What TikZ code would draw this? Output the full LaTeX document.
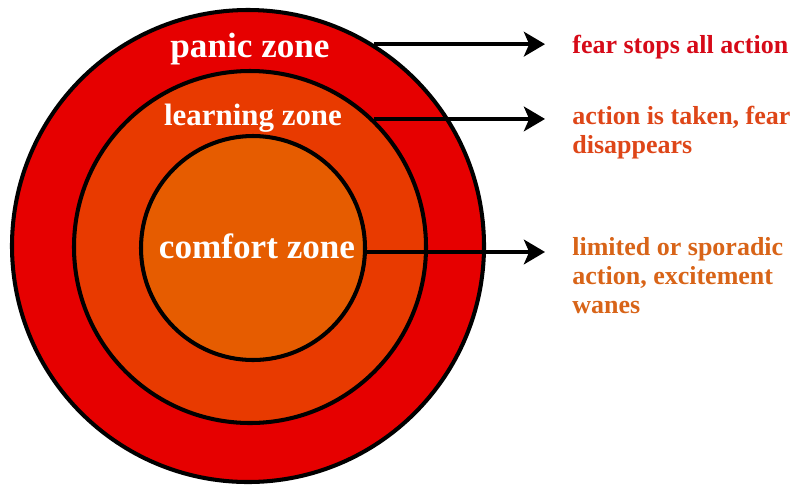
\documentclass[tikz,border=0pt]{standalone}
\usepackage{fontspec}
\setmainfont{Liberation Serif}
\usetikzlibrary{arrows.meta}

\definecolor{panicred}{RGB}{230,0,0}
\definecolor{learnred}{RGB}{232,58,0}
\definecolor{comfortor}{RGB}{230,92,0}
\definecolor{feartext}{RGB}{214,10,24}
\definecolor{actiontext}{RGB}{222,70,24}
\definecolor{limitedtext}{RGB}{216,100,24}

\begin{document}
\begin{tikzpicture}[
    x=0.02cm, y=-0.02cm,
    % Styles
    zone/.style={circle, draw=black, line width=2.3pt, fill=#1, inner sep=0pt},
    zonetext/.style={anchor=base, text=white, inner sep=0pt, font=\bfseries\fontsize{#1}{#1}\selectfont},
    effect/.style={anchor=base west, inner sep=0pt, align=left, text=#1,
        font=\bfseries\fontsize{14.8}{16.4}\selectfont},
    pointer/.style={-{Stealth[length=12pt, width=14pt, inset=3pt]}, line width=2.3pt, shorten >=0.54cm}
]
\useasboundingbox (0,0) rectangle (800,491);

% --- Zones ---
\node[zone=panicred, minimum size=472*0.02cm] (panic) at (248,246) {};
\node[zone=learnred, minimum size=352*0.02cm] (learning) at (250,247) {};
\node[zone=comfortor, minimum size=224*0.02cm] (comfort) at (253,248) {};

% --- Zone labels ---
\node[zonetext=20] (paniclbl) at (250,57) {panic zone};
\node[zonetext=17.6] (learninglbl) at (253,125) {learning zone};
\node[zonetext=20] (comfortlbl) at (257,258) {comfort zone};

% --- Effects (base = last line) ---
\node[effect=feartext] (fear) at (572,53) {fear stops all action};
\node[effect=actiontext] (action) at (572,153) {action is taken, fear\\disappears};
\node[effect=limitedtext] (limited) at (572,313) {limited or sporadic\\action, excitement\\wanes};

% --- Arrows ---
\draw[pointer] (panic.58) -- (panic.58 -| fear.west);
\draw[pointer] (learning.46) -- (learning.46 -| action.west);
\draw[pointer] (comfort.-2) -- (comfort.-2 -| limited.west);

\end{tikzpicture}
\end{document}
